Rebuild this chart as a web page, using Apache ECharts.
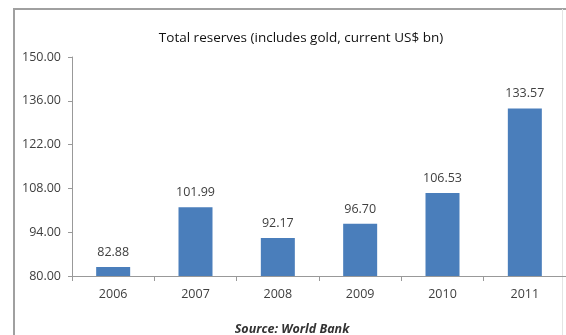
<!DOCTYPE html>
<html>
<head>
<meta charset="utf-8">
<script src="https://cdn.jsdelivr.net/npm/echarts@6/dist/echarts.min.js"></script>
<style>
html, body { margin: 0; padding: 0; background: #fff; }
#chart { width: 566px; height: 335px; }
</style>
</head>
<body>
<div id="chart"></div>
<script>
var years = ["2006", "2007", "2008", "2009", "2010", "2011"];
var reserves = [82.88, 101.99, 92.17, 96.70, 106.53, 133.57];
var yTicks = { min: 80, max: 150, step: 14 };

var chart = echarts.init(document.getElementById("chart"));
chart.setOption({
    animation: false,
    textStyle: { fontFamily: "'Open Sans', sans-serif" },
    graphic: [{
        type: "polyline",
        shape: { points: [[14, 340], [14, 9], [566, 9]] },
        style: { fill: "none", stroke: "#a0a0a0", lineWidth: 2 },
        silent: true
    }, {
        type: "line",
        shape: { x1: 562.5, y1: 9, x2: 562.5, y2: 335 },
        style: { stroke: "#e4e4e4", lineWidth: 1 },
        silent: true
    }],
    title: [{
        text: "Total reserves (includes gold, current US$ bn)",
        left: 296, top: 26, textAlign: "center",
        textStyle: { fontSize: 13.5, fontWeight: "normal", color: "#111", fontFamily: "'Open Sans', sans-serif" }
    }, {
        text: "Source: World Bank",
        left: 287, top: 318, textAlign: "center",
        textStyle: { fontSize: 12.5, fontWeight: "bold", fontStyle: "italic", color: "#333", fontFamily: "'Open Sans', sans-serif" }
    }],
    grid: { left: 72, right: 0, top: 57, bottom: 59, containLabel: false },
    xAxis: {
        type: "category",
        data: years,
        axisLine: { lineStyle: { color: "#999" } },
        axisTick: { show: true, length: 5, lineStyle: { color: "#999" } },
        axisLabel: { color: "#404040", fontSize: 12.5, margin: 12 }
    },
    yAxis: {
        type: "value",
        min: yTicks.min, max: yTicks.max, interval: yTicks.step,
        splitLine: { show: false },
        axisLine: { show: true, lineStyle: { color: "#999" } },
        axisTick: { show: true, length: 4, lineStyle: { color: "#999" } },
        axisLabel: {
            color: "#404040", fontSize: 12.5, margin: 11,
            formatter: function (v) { return v.toFixed(2); }
        }
    },
    series: [{
        type: "bar",
        data: reserves,
        barWidth: 34,
        itemStyle: { color: "#4A7EBB" },
        label: {
            show: true, position: "top", distance: 8,
            color: "#404040", fontSize: 12.5,
            formatter: function (p) { return p.value.toFixed(2); }
        }
    }]
});
</script>
</body>
</html>
